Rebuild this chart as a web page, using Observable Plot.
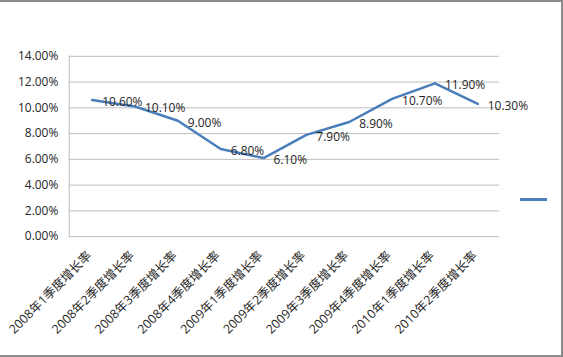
<!DOCTYPE html>
<html>
<head>
<meta charset="utf-8">
<script src="https://cdn.jsdelivr.net/npm/d3@7"></script>
<script src="https://cdn.jsdelivr.net/npm/@observablehq/plot@0.6"></script>
<style>
  html, body { margin: 0; padding: 0; background: #fff; }
  #wrap { position: relative; width: 563px; height: 357px; box-sizing: border-box;
          border-top: 2px solid #8c8c8c; border-right: 2px solid #8c8c8c; border-bottom: 2px solid #8c8c8c; overflow: hidden; }
  #chart { position: absolute; left: 0; top: -2px; }
  #legend { position: absolute; left: 520px; top: 196px; width: 27px; height: 3px; background: #4a7ebb; }
</style>
</head>
<body>
<div id="wrap"><div id="chart"></div><div id="legend"></div></div>
<script>
const categories = ["2008年1季度增长率","2008年2季度增长率","2008年3季度增长率","2008年4季度增长率",
  "2009年1季度增长率","2009年2季度增长率","2009年3季度增长率","2009年4季度增长率",
  "2010年1季度增长率","2010年2季度增长率"];
const values = [10.6, 10.1, 9.0, 6.8, 6.1, 7.9, 8.9, 10.7, 11.9, 10.3];
const yTicks = [0, 2, 4, 6, 8, 10, 12, 14];

const data = categories.map((c, i) => ({cat: c, v: values[i]}));
const font = "'Open Sans', 'Noto Sans CJK SC', sans-serif";

const chart = Plot.plot({
  width: 563,
  height: 357,
  marginLeft: 69,
  marginRight: 62,
  marginTop: 56,
  marginBottom: 120,
  style: {fontFamily: font, fontSize: "12px", color: "#262626", background: "transparent"},
  x: {type: "point", domain: categories, padding: 0.5, axis: null},
  y: {domain: [0, 14], axis: null},
  marks: [
    Plot.ruleY(yTicks, {stroke: "#bdbdbd", strokeWidth: 1}),
    Plot.frame({anchor: "left", stroke: "#bdbdbd"}),
    Plot.axisY(yTicks, {tickSize: 0, tickPadding: 11, label: null, tickFormat: d => d.toFixed(2) + "%", fontSize: 12, fill: "#262626"}),
    Plot.text(categories, {x: d => d, frameAnchor: "bottom", dy: 20, dx: 0, rotate: -45, textAnchor: "end", fontSize: 12.5, fill: "#262626"}),
    Plot.line(data, {x: "cat", y: "v", stroke: "#4a7ebb", strokeWidth: 2.5}),
    Plot.text(data, {x: "cat", y: "v", text: d => d.v.toFixed(2) + "%", textAnchor: "start", dx: 10, dy: 2, fontSize: 12, fill: "#262626"})
  ]
});
document.getElementById("chart").appendChild(chart);
</script>
</body>
</html>
